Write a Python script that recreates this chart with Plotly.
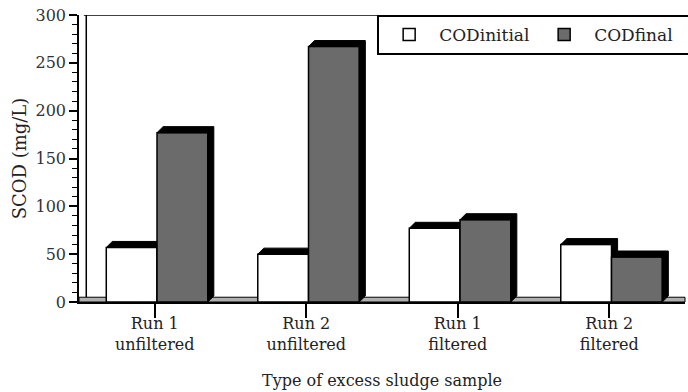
import plotly.graph_objects as go

categories = ["Run 1<br>unfiltered", "Run 2<br>unfiltered", "Run 1<br>filtered", "Run 2<br>filtered"]
cod_initial = [57, 50, 77, 60]
cod_final = [177, 267, 86, 47]

FONT = "DejaVu Serif, Liberation Serif, serif"
DEPTH_X = 0.04   # 3D depth offset in category units
DEPTH_Y = 6.3    # 3D depth offset in value units
W = 0.335
OFF_INIT = -0.32
OFF_FINAL = 0.015

x = list(range(len(categories)))


def depth_faces(vals, off):
    """Top + side faces of pseudo-3D blocks, computed from the data values."""
    px, py = [], []
    for i, v in enumerate(vals):
        x0 = i + off
        x1 = x0 + W
        px += [x0, x0 + DEPTH_X, x1 + DEPTH_X, x1 + DEPTH_X, x1, x1, x0, None]
        py += [v, v + DEPTH_Y, v + DEPTH_Y, DEPTH_Y, 0, v, v, None]
    return px, py


fig = go.Figure()

fig.add_trace(go.Bar(x=x, y=cod_initial, width=W, offset=OFF_INIT, name="CODinitial",
                     marker=dict(color="white", line=dict(color="black", width=1.5))))
fx, fy = depth_faces(cod_initial, OFF_INIT)
fig.add_trace(go.Scatter(x=fx, y=fy, mode="lines", fill="toself", fillcolor="black",
                         line=dict(color="black", width=1), showlegend=False, hoverinfo="skip"))

fig.add_trace(go.Bar(x=x, y=cod_final, width=W, offset=OFF_FINAL, name="CODfinal",
                     xaxis="x2", yaxis="y2",
                     marker=dict(color="#6b6b6b", line=dict(color="black", width=1.5))))
fx, fy = depth_faces(cod_final, OFF_FINAL)
fig.add_trace(go.Scatter(x=fx, y=fy, mode="lines", fill="toself", fillcolor="black",
                         xaxis="x2", yaxis="y2",
                         line=dict(color="black", width=1), showlegend=False, hoverinfo="skip"))

shapes = [
    dict(type="rect", xref="paper", yref="y", x0=0, x1=1, y0=0, y1=5,
         fillcolor="#b0b0b0", line=dict(color="black", width=1), layer="below"),
    dict(type="line", xref="paper", yref="y", x0=0.012, x1=0.012, y0=5, y1=300,
         line=dict(color="black", width=1.5), layer="below"),
    dict(type="line", xref="paper", yref="y", x0=0.008, x1=1, y0=300, y1=300,
         line=dict(color="black", width=1.5), layer="below"),
]

xrange = [-0.5, len(categories) - 0.5]

fig.update_layout(
    width=688, height=392,
    margin=dict(l=79, r=3, t=15, b=90, autoexpand=False),
    paper_bgcolor="white", plot_bgcolor="white",
    barmode="overlay",
    font=dict(family=FONT, color="#222", size=15),
    shapes=shapes,
    legend=dict(orientation="h", x=0.492, y=1.0, xanchor="left", yanchor="top",
                bordercolor="black", borderwidth=2, bgcolor="white",
                font=dict(family=FONT, size=17, color="#222"),
                itemwidth=50, entrywidth=90, entrywidthmode="pixels", traceorder="normal"),
    showlegend=True,
    xaxis2=dict(overlaying="x", matches="x", visible=False, range=xrange),
    yaxis2=dict(overlaying="y", matches="y", visible=False, range=[0, 300]),
)

fig.layout.xaxis.update(
    tickmode="array", tickvals=x, ticktext=categories,
    range=xrange,
    tickson="boundaries", ticks="outside", ticklen=14, tickwidth=1.5, tickcolor="black",
    ticklabelstandoff=-8,
    showline=True, linecolor="black", linewidth=1.5,
    showgrid=False, zeroline=False,
    tickfont=dict(family=FONT, size=16, color="#222"),
    title=dict(text="Type of excess sludge sample", font=dict(family=FONT, size=16, color="#222"), standoff=22),
)
fig.layout.yaxis.update(
    range=[0, 300], tickmode="linear", tick0=0, dtick=50,
    ticks="outside", ticklen=8, tickwidth=1.5, tickcolor="black",
    minor=dict(dtick=10, ticks="outside", ticklen=5, tickwidth=1.2, tickcolor="black", showgrid=False),
    showline=True, linecolor="black", linewidth=1.5,
    showgrid=False, zeroline=False,
    tickfont=dict(family=FONT, size=16, color="#333"),
    title=dict(text="SCOD (mg/L)", font=dict(family=FONT, size=18, color="#222"), standoff=4),
)

fig.write_html("out.html")
